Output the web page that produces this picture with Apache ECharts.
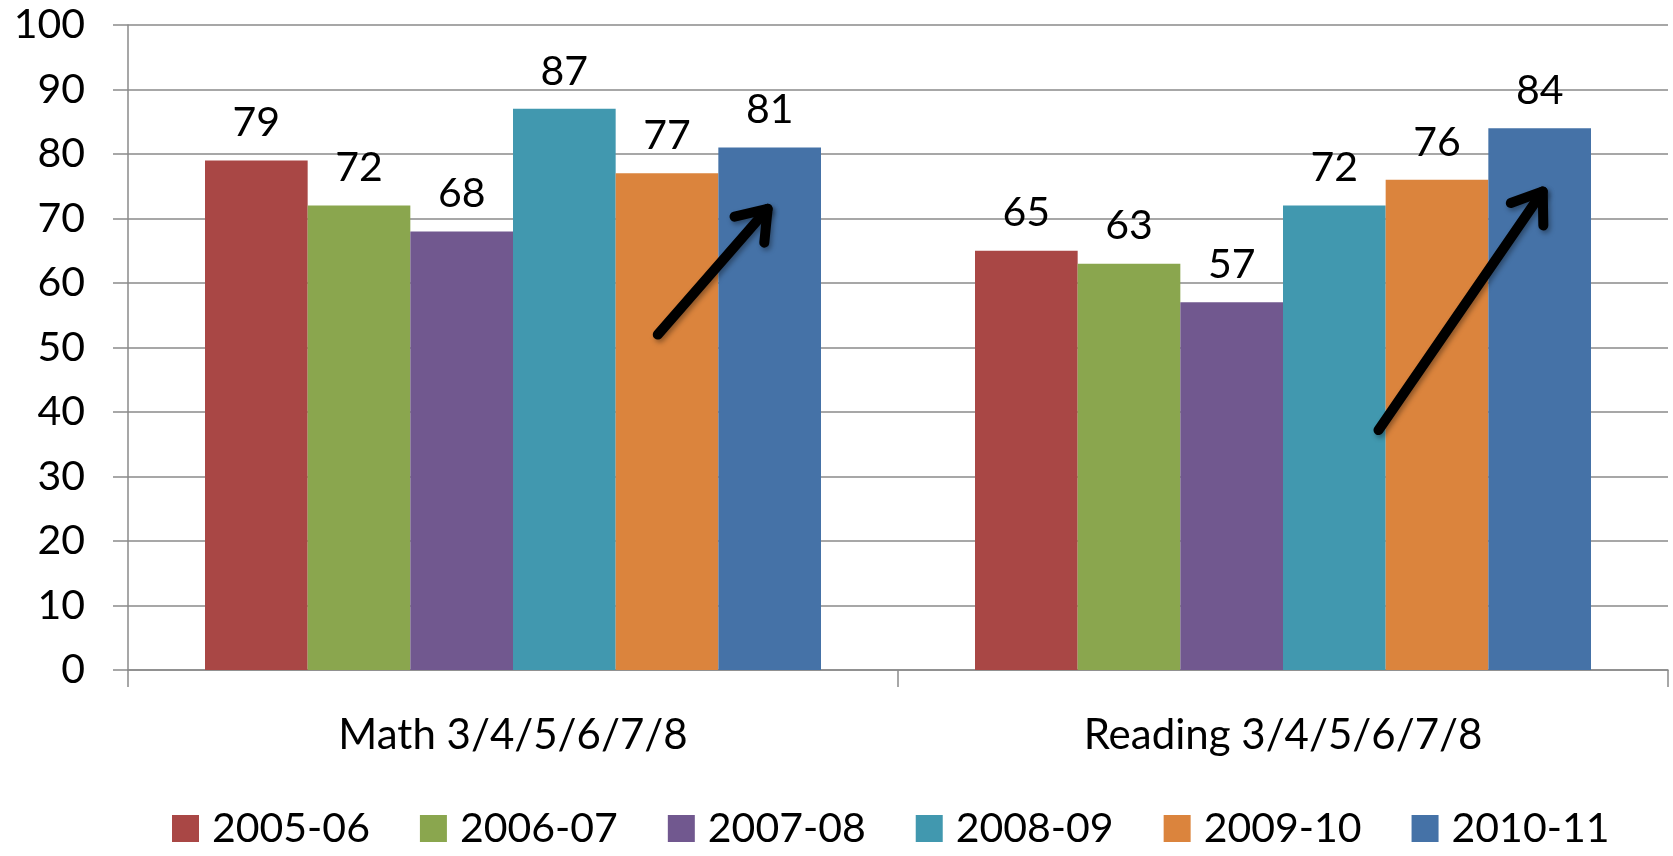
<!DOCTYPE html>
<html>
<head>
<meta charset="utf-8">
<script src="https://cdn.jsdelivr.net/npm/echarts@6/dist/echarts.min.js"></script>
<style>
  html, body { margin: 0; padding: 0; background: #fff; }
  #chartContainer { width: 1673px; height: 856px; }
</style>
</head>
<body>
<div id="chartContainer"></div>
<script>
var CATEGORIES = ['Math 3/4/5/6/7/8', 'Reading 3/4/5/6/7/8'];
var YEARS = ['2005-06', '2006-07', '2007-08', '2008-09', '2009-10', '2010-11'];
var COLORS = ['#A94745', '#8AA64E', '#71588F', '#4198AF', '#DB843D', '#4572A7'];
var VALUES = [
  [79, 65],
  [72, 63],
  [68, 57],
  [87, 72],
  [77, 76],
  [81, 84]
];
// arrows: [category index, start offset (bar widths from centre), start value, end offset, end value]
var ARROWS = [
  [0, 1.41, 52, 2.48, 71.5],
  [1, 0.93, 37.2, 2.53, 74.2]
];

var FONT = 'Lato';
var CHART;
var CHART_OPTION = {
  animation: false,
  grid: {
    left: 128,
    right: 5,
    top: 25,
    bottom: 186
  },
  xAxis: {
    type: 'category',
    data: CATEGORIES,
    axisLine: { lineStyle: { color: '#8a8a8a', width: 1.5 } },
    axisTick: { show: true, length: 17, lineStyle: { color: '#8a8a8a', width: 1.5 } },
    axisLabel: { color: '#000', fontSize: 42, fontFamily: FONT, margin: 44 }
  },
  yAxis: {
    type: 'value',
    min: 0,
    max: 100,
    interval: 10,
    axisLine: { show: true, lineStyle: { color: '#8a8a8a', width: 1.5 } },
    axisTick: { show: true, length: 15, lineStyle: { color: '#8a8a8a', width: 1.5 } },
    splitLine: { lineStyle: { color: '#8a8a8a', width: 1.5 } },
    axisLabel: { color: '#000', fontSize: 41, fontFamily: FONT, margin: 43 }
  },
  legend: {
    bottom: 2,
    left: 167,
    itemWidth: 27,
    itemHeight: 27,
    itemGap: 50,
    icon: 'rect',
    textStyle: { color: '#000', fontSize: 41, fontFamily: FONT, padding: [0, 0, 0, 8] },
    data: YEARS
  },
  series: []
};

for (var i = 0; i < YEARS.length; i++) {
  CHART_OPTION.series.push({
    name: YEARS[i],
    type: 'bar',
    data: VALUES[i],
    barGap: '0%',
    barCategoryGap: '20%',
    itemStyle: { color: COLORS[i] },
    label: {
      show: true,
      position: 'top',
      distance: 17,
      color: '#000',
      fontSize: 41,
      fontFamily: FONT
    }
  });
}

window.onload = _ => {
  CHART = echarts.init(document.getElementById("chartContainer"), null, { renderer: 'canvas' });
  CHART.setOption(CHART_OPTION);
  drawArrows();
};

function drawArrows() {
  var p0 = CHART.convertToPixel({ gridIndex: 0 }, [0, 0]);
  var p1 = CHART.convertToPixel({ gridIndex: 0 }, [1, 0]);
  var bandWidth = p1[0] - p0[0];
  var barWidth = bandWidth * 0.8 / YEARS.length;
  var elements = [];
  var style = {
    stroke: '#000',
    lineWidth: 10,
    lineCap: 'round',
    lineJoin: 'round',
    fill: null,
    shadowBlur: 5,
    shadowColor: 'rgba(0,0,0,0.35)',
    shadowOffsetX: 2,
    shadowOffsetY: 3
  };
  for (let a of ARROWS) {
    let s = CHART.convertToPixel({ gridIndex: 0 }, [a[0], a[2]]);
    let e = CHART.convertToPixel({ gridIndex: 0 }, [a[0], a[4]]);
    let x1 = s[0] + a[1] * barWidth, y1 = s[1];
    let x2 = e[0] + a[3] * barWidth, y2 = e[1];
    let ang = Math.atan2(y1 - y2, x1 - x2);
    let len = 34, spread = 0.62;
    elements.push({
      type: 'line',
      shape: { x1: x1, y1: y1, x2: x2, y2: y2 },
      style: style,
      z: 100
    });
    elements.push({
      type: 'polyline',
      shape: {
        points: [
          [x2 + len * Math.cos(ang + spread), y2 + len * Math.sin(ang + spread)],
          [x2, y2],
          [x2 + len * Math.cos(ang - spread), y2 + len * Math.sin(ang - spread)]
        ]
      },
      style: style,
      z: 100
    });
  }
  CHART.setOption({ graphic: elements });
}
</script>
</body>
</html>
